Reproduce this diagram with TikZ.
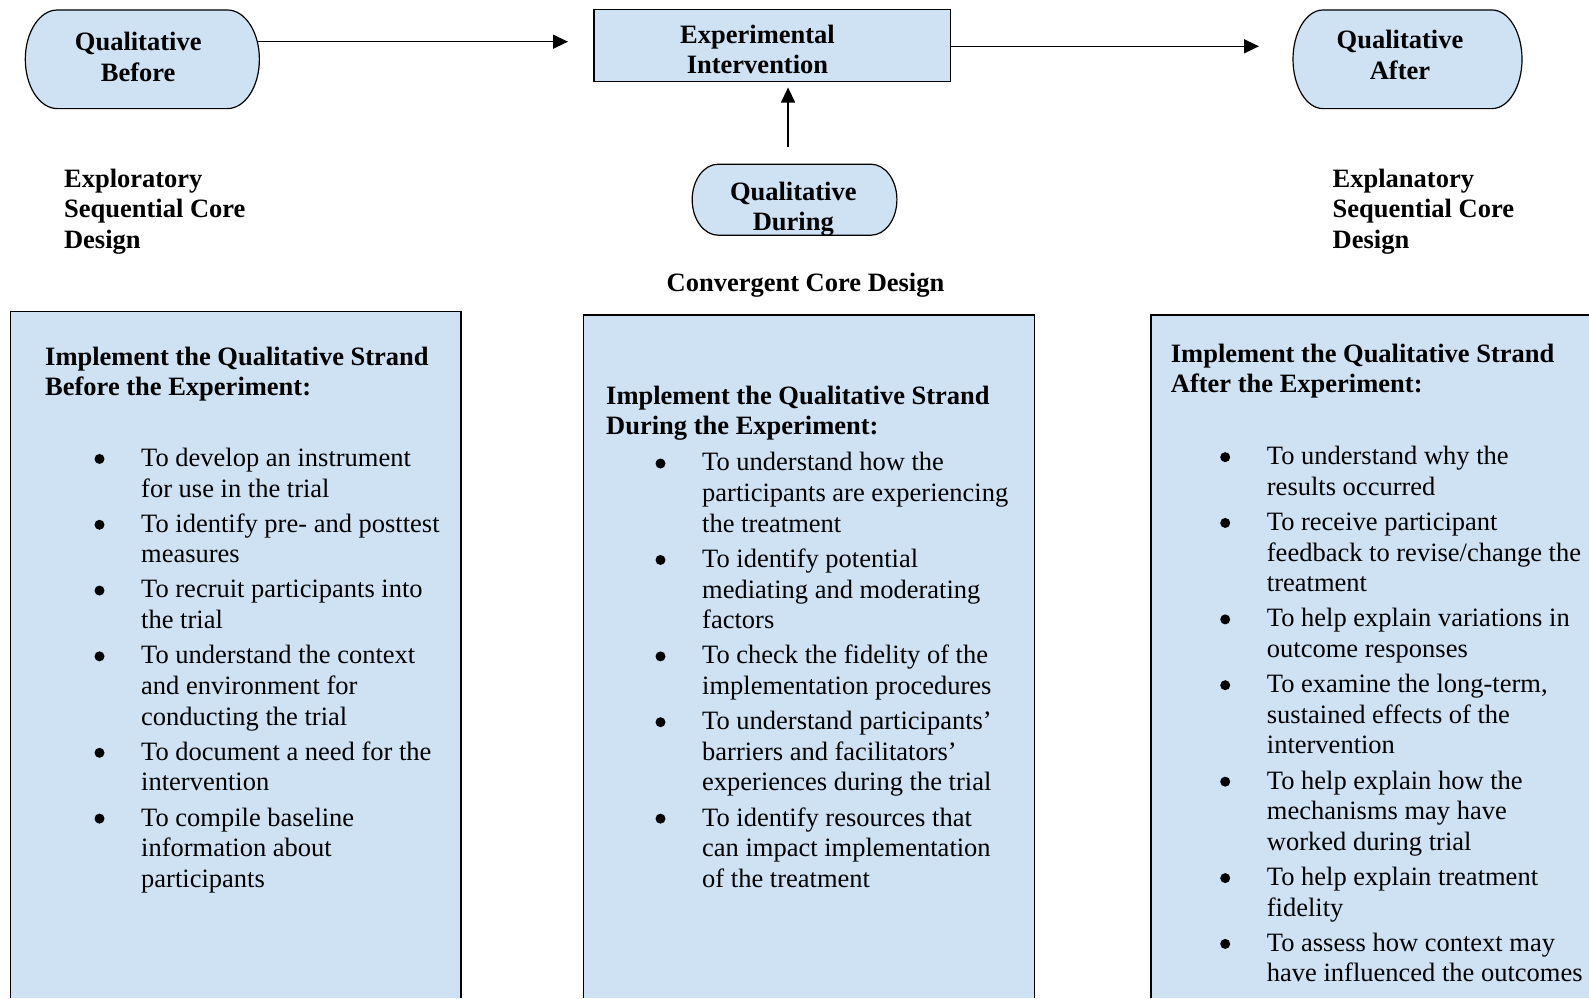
\documentclass[tikz,border=0pt]{standalone}
\usepackage{fontspec}
\setmainfont{Liberation Serif}
\usepackage{graphicx}
\usetikzlibrary{arrows.meta,calc}
\definecolor{lblue}{RGB}{207,226,243}
\newcommand\bodyfont{\fontsize{26.5}{30.65}\selectfont}
\newcommand\bul{\tikz[baseline=0pt]\fill (0pt,7.4pt) circle[radius=5pt];}
\newcommand\bitem[1]{\par\vspace{4.5pt}\hangindent=96pt\hangafter=1\noindent\makebox[96pt][l]{\hspace{49.3pt}\bul}{\def\\{\hfil\break}#1}}
\newcommand\ctext[2]{\parbox[t]{#1}{\centering #2}}
\newcommand\ltext[2]{\parbox[t]{#1}{\raggedright\parskip=0pt\parindent=0pt #2}}
% oval with elliptic ends drawn around an (empty) node
\newcommand\ovalpath[2]{%
  \path[ovalline] let \p1=(#1.north west), \p2=(#1.south east),
    \n1={(\y1-\y2)/2}, \n2={0.5523*\n1}, \n3={0.5523*#2} in
    ({\x1+#2},\y1) -- ({\x2-#2},\y1)
    .. controls ({\x2-#2+\n3},\y1) and (\x2,{\y1-\n1+\n2}) .. (\x2,{\y1-\n1})
    .. controls (\x2,{\y2+\n1-\n2}) and ({\x2-#2+\n3},\y2) .. ({\x2-#2},\y2)
    -- ({\x1+#2},\y2)
    .. controls ({\x1+#2-\n3},\y2) and (\x1,{\y2+\n1-\n2}) .. (\x1,{\y2+\n1})
    .. controls (\x1,{\y1-\n1+\n2}) and ({\x1+#2-\n3},\y1) .. cycle;}
\tikzset{
  shapenode/.style={draw=none, inner sep=0pt, outer sep=0pt},
  ovalline/.style={fill=lblue, draw=black, line width=1.2pt},
  rectbox/.style={fill=lblue, draw=black, line width=1.4pt, inner sep=0pt, outer sep=0pt},
  lbl/.style={font=\bodyfont\bfseries, anchor=base, inner sep=0pt},
  llbl/.style={font=\bodyfont\bfseries, anchor=base west, inner sep=0pt},
  panelbg/.style={fill=lblue},
  panelline/.style={draw=black, line width=1.4pt},
  paneltext/.style={font=\bodyfont, anchor=base west, inner sep=0pt},
  conn/.style={draw=black, line width=1.3pt, -{Triangle[length=15pt,width=14pt]}},
}
\begin{document}
\begin{tikzpicture}[x=1pt,y=-1pt]
\useasboundingbox (0,0) rectangle (1589,998);

% panels
\fill[panelbg] (10.5,311.5) rectangle (461,998);
\draw[panelline] (10.5,998) |- (461,311.5) -- (461,998);
\fill[panelbg] (583.5,315) rectangle (1034.5,998);
\draw[panelline] (583.5,998) |- (1034.5,315) -- (1034.5,998);
\fill[panelbg] (1151,315) rectangle (1589,998);
\draw[panelline] (1151,998) |- (1589,315);

% shapes
\node[shapenode, minimum width=234.1pt, minimum height=98.6pt] (qb) at (142.35,59.3) {};
\node[shapenode, minimum width=229pt, minimum height=98.6pt] (qa) at (1407.5,59.3) {};
\node[shapenode, minimum width=204.7pt, minimum height=71pt] (qd) at (794.55,199.7) {};
\node[rectbox, minimum width=356.6pt, minimum height=72pt] (ei) at (772.3,45.5) {};
\ovalpath{qb}{32pt}
\ovalpath{qa}{30pt}
\ovalpath{qd}{26pt}

% labels
\node[lbl] (qbt) at (138.2,50.5) {\ctext{300pt}{Qualitative\\Before}};
\node[lbl] (qat) at (1400,48.5) {\ctext{300pt}{Qualitative\\After}};
\node[lbl] (qdt) at (793.3,200) {\ctext{300pt}{Qualitative\\During}};
\node[lbl] (eit) at (757.5,43.3) {\ctext{300pt}{Experimental\\Intervention}};
\node[llbl] (expl) at (63.9,187.3) {\ltext{300pt}{Exploratory\\Sequential Core\\Design}};
\node[llbl] (expn) at (1332.5,187.3) {\ltext{250pt}{Explanatory\\Sequential Core\\Design}};
\node[lbl] (conv) at (805.5,291.7) {Convergent Core Design};

% connectors
\coordinate (a1e) at (568,41.7);
\draw[conn] ($(qb.east |- a1e)+(-2,0)$) -- (a1e);
\coordinate (a2e) at (1259,46.3);
\draw[conn] (ei.east |- a2e) -- (a2e);
\draw[conn] ($(qd.north)+(-6.5,-17)$) coordinate (a3s) -- ($(a3s |- ei.south)+(0,6)$);

% panel texts
\node[paneltext] (before) at (45,365) {\ltext{420pt}{%
\textbf{Implement the Qualitative Strand\\Before the Experiment:}\par
\vspace{35.55pt}
\bitem{To develop an instrument\\for use in the trial}
\bitem{To identify pre- and posttest\\measures}
\bitem{To recruit participants into\\the trial}
\bitem{To understand the context\\and environment for\\conducting the trial}
\bitem{To document a need for the\\intervention}
\bitem{To compile baseline\\information about\\participants}}};

\node[paneltext] (during) at (606,404) {\ltext{420pt}{%
\textbf{Implement the Qualitative Strand\\During the Experiment:}\par
\vspace{1.1pt}
\bitem{To understand how the\\participants are experiencing\\the treatment}
\bitem{To identify potential\\mediating and moderating\\factors}
\bitem{To check the fidelity of the\\implementation procedures}
\bitem{To understand participants’\\barriers and facilitators’\\experiences during the trial}
\bitem{To identify resources that\\can impact implementation\\of the treatment}}};

\node[paneltext] (after) at (1170.7,362.3) {\ltext{415pt}{%
\textbf{Implement the Qualitative Strand\\After the Experiment:}\par
\vspace{36.45pt}
\bitem{To understand why the\\results occurred}
\bitem{To receive participant\\feedback to revise/change the\\treatment}
\bitem{To help explain variations in\\outcome responses}
\bitem{To examine the long-term,\\sustained effects of the\\intervention}
\bitem{To help explain how the\\mechanisms may have\\worked during trial}
\bitem{To help explain treatment\\fidelity}
\bitem{To assess how context may\\have influenced the outcomes}}};
\end{tikzpicture}
\end{document}
